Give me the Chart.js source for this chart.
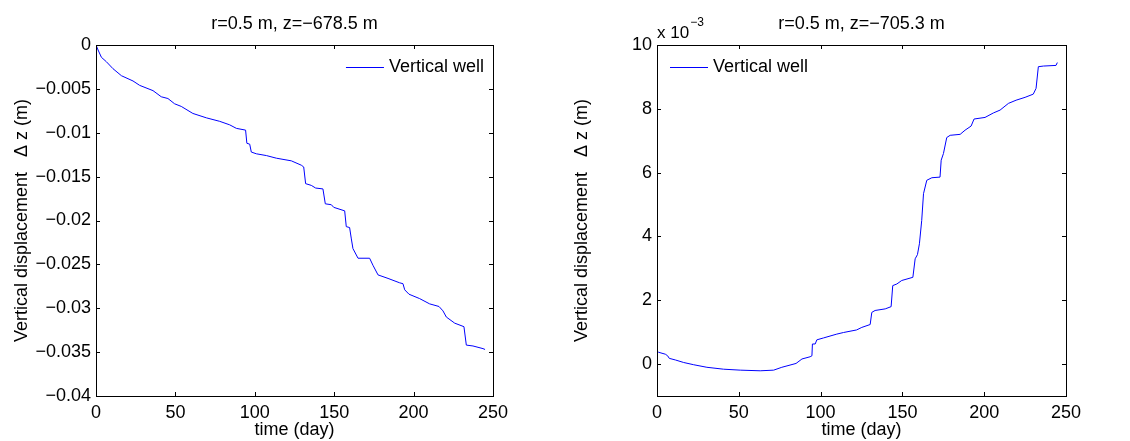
<!DOCTYPE html>
<html>
<head>
<meta charset="utf-8">
<script src="https://cdn.jsdelivr.net/npm/chart.js@4.4.0/dist/chart.umd.min.js"></script>
<style>
    html, body { margin: 0; padding: 0; background: #fff; }
    #wrap { position: relative; width: 1130px; height: 441px; }
    canvas { position: absolute; top: 0; }
</style>
</head>
<body>
<div id="wrap">
    <canvas id="leftChart" width="560" height="441" style="left:0"></canvas>
    <canvas id="rightChart" width="570" height="441" style="left:560px"></canvas>
</div>
<script>
// Left panel: r=0.5 m, z=-678.5 m  (dz in m)
const leftDays = [0, 1.3, 3.4, 6.5, 10.7, 16, 23.3, 27.5, 35.9, 41.1, 45.3, 49.5, 53.7, 61, 69.5, 77.9, 84.2, 88.4, 94.2,
    95, 96.8, 97.8, 101, 107.3, 113.6, 123, 129.3, 130.8, 132, 135.6, 138.3, 142.9, 144.4, 148.2, 149.7, 156.6,
    157.6, 159.7, 160.8, 161.8, 165, 172.3, 174.4, 177.6, 183.9, 191.2, 193.3, 194.4, 197.1, 203.8, 210.1, 216,
    218.5, 220.6, 225.9, 231.7, 233.2, 237.4, 243.7, 245];
const leftDz = [0, -0.00057, -0.0014, -0.0019, -0.0027, -0.0035, -0.0041, -0.0046, -0.0052, -0.0059, -0.0061, -0.0067,
    -0.0070, -0.0078, -0.0083, -0.0087, -0.0091, -0.0095, -0.0097, -0.0112, -0.0113, -0.0122, -0.0124, -0.0126,
    -0.0129, -0.0132, -0.0137, -0.0139, -0.0158, -0.0160, -0.0163, -0.0164, -0.0181, -0.0182, -0.0185, -0.0189,
    -0.0207, -0.0208, -0.0221, -0.0232, -0.0243, -0.0243, -0.0251, -0.0262, -0.0266, -0.0271, -0.0272, -0.0279,
    -0.0284, -0.0289, -0.0295, -0.0298, -0.0303, -0.0310, -0.0317, -0.0321, -0.0342, -0.0343, -0.0346, -0.0347];

// Right panel: r=0.5 m, z=-705.3 m  (dz in 1e-3 m)
const rightDays = [0, 0, 1, 5.1, 6.5, 7.5, 11.2, 16.3, 22.4, 30.5, 40.7, 50.9, 63.1, 71.3, 76.3, 85, 88.6, 93.6, 94.7, 95,
    96.7, 97.7, 101.8, 109.9, 114, 122, 125.2, 130.3, 131.3, 133.3, 139.5, 143.1, 144.1, 146.6, 149.6, 156.4,
    157.8, 159.2, 160.4, 161.8, 162.9, 164.9, 168, 173, 173.7, 175.1, 177.1, 179.2, 185.3, 188.3, 192, 193.8,
    200.5, 205.6, 209.7, 214.8, 219.5, 225, 230, 231.7, 233.1, 236.2, 243.9, 244.7];
const rightDz = [0, 0.42, 0.37, 0.31, 0.26, 0.18, 0.13, 0.05, -0.02, -0.10, -0.16, -0.19, -0.21, -0.19, -0.10, 0.02, 0.16,
    0.23, 0.26, 0.63, 0.63, 0.76, 0.82, 0.94, 0.99, 1.07, 1.15, 1.24, 1.62, 1.68, 1.73, 1.80, 2.46, 2.51, 2.62,
    2.72, 3.30, 3.43, 3.77, 4.50, 5.34, 5.76, 5.84, 5.86, 6.39, 6.60, 7.10, 7.17, 7.20, 7.33, 7.46, 7.68, 7.73,
    7.87, 7.96, 8.17, 8.27, 8.36, 8.46, 8.64, 9.32, 9.34, 9.36, 9.45];

// 刻度
const dayTicks = [0, 50, 100, 150, 200, 250];
const dayTickLabels = ['0', '50', '100', '150', '200', '250'];
const leftYTicks = [-0.04, -0.035, -0.03, -0.025, -0.02, -0.015, -0.01, -0.005, 0];
const leftYTickLabels = ['\u22120.04', '\u22120.035', '\u22120.03', '\u22120.025', '\u22120.02', '\u22120.015', '\u22120.01', '\u22120.005', '0'];
const rightYTicks = [0, 2, 4, 6, 8, 10];
const rightYTickLabels = ['0', '2', '4', '6', '8', '10'];

const FONT_FAMILY = '"Liberation Sans", Arial, Helvetica, sans-serif';
const TICK_LEN = 4;

// MATLAB-like box, inward ticks, title, legend
const matlabFrame = {
    id: 'matlabFrame',
    afterDraw(chart, args, opts) {
        const ctx = chart.ctx;
        const a = chart.chartArea;
        const xs = chart.scales.x;
        const ys = chart.scales.y;

        ctx.save();
        ctx.strokeStyle = '#000';
        ctx.lineWidth = 1;
        ctx.strokeRect(Math.round(a.left) + 0.5, Math.round(a.top) + 0.5,
            Math.round(a.right - a.left), Math.round(a.bottom - a.top));

        ctx.beginPath();
        xs.ticks.forEach(t => {
            const px = Math.round(xs.getPixelForValue(t.value)) + 0.5;
            ctx.moveTo(px, a.bottom);
            ctx.lineTo(px, a.bottom - TICK_LEN);
            ctx.moveTo(px, a.top);
            ctx.lineTo(px, a.top + TICK_LEN);
        });
        ys.ticks.forEach(t => {
            const py = Math.round(ys.getPixelForValue(t.value)) + 0.5;
            ctx.moveTo(a.left, py);
            ctx.lineTo(a.left + TICK_LEN, py);
            ctx.moveTo(a.right, py);
            ctx.lineTo(a.right - TICK_LEN, py);
        });
        ctx.stroke();

        // title
        ctx.fillStyle = '#000';
        ctx.font = `18px ${FONT_FAMILY}`;
        ctx.textAlign = 'center';
        ctx.textBaseline = 'middle';
        ctx.fillText(opts.title, (a.left + a.right) / 2, 24);

        // exponent label
        if (opts.exponent) {
            ctx.textAlign = 'left';
            ctx.font = `17px ${FONT_FAMILY}`;
            ctx.fillText('x 10', a.left, 33);
            const w = ctx.measureText('x 10').width;
            ctx.font = `12px ${FONT_FAMILY}`;
            ctx.fillText(opts.exponent, a.left + w + 1, 23);
        }

        // legend
        const ds = chart.data.datasets[0];
        ctx.font = `18px ${FONT_FAMILY}`;
        ctx.textAlign = 'left';
        const tw = ctx.measureText(ds.label).width;
        let textX;
        if (opts.legendSide === 'right') {
            textX = a.right - 9 - tw;
        } else {
            textX = a.left + 56;
        }
        const ly = a.top + 22;
        ctx.fillText(ds.label, textX, ly);
        ctx.strokeStyle = ds.borderColor;
        ctx.beginPath();
        ctx.moveTo(textX - 43, Math.round(ly) + 0.5);
        ctx.lineTo(textX - 5, Math.round(ly) + 0.5);
        ctx.stroke();
        ctx.restore();
    }
};

// 生成点数据
function toPoints(xs, ys) {
    return xs.map((x, i) => ({ x: x, y: ys[i] }));
}

// 创建单个图表
function makeChart(canvasId, cfg) {
    const ctx = document.getElementById(canvasId).getContext('2d');

    return new Chart(ctx, {
        type: 'line',
        data: {
            datasets: [{
                label: 'Vertical well',
                data: toPoints(cfg.days, cfg.values),
                borderColor: '#0000ff',
                borderWidth: 1,
                pointRadius: 0,
                tension: 0,
                fill: false
            }]
        },
        options: {
            responsive: false,
            animation: false,
            devicePixelRatio: 1,
            layout: {
                padding: { left: 0, right: cfg.padRight, top: 45, bottom: 0 }
            },
            plugins: {
                legend: { display: false },
                title: { display: false },
                tooltip: { enabled: false },
                matlabFrame: {
                    title: cfg.title,
                    exponent: cfg.exponent,
                    legendSide: cfg.legendSide
                }
            },
            scales: {
                x: {
                    type: 'linear',
                    min: 0,
                    max: 250,
                    afterBuildTicks: scale => {
                        scale.ticks = dayTicks.map(v => ({ value: v }));
                    },
                    afterFit: scale => { scale.height = 45; },
                    grid: { display: false, drawTicks: false },
                    border: { display: false },
                    ticks: {
                        color: '#000',
                        padding: 6,
                        maxRotation: 0,
                        font: { family: FONT_FAMILY, size: 18 },
                        callback: (v, i) => dayTickLabels[i]
                    },
                    title: {
                        display: true,
                        text: 'time (day)',
                        color: '#000',
                        padding: { top: -3, bottom: 0 },
                        font: { family: FONT_FAMILY, size: 18 }
                    }
                },
                y: {
                    type: 'linear',
                    min: cfg.yMin,
                    max: cfg.yMax,
                    afterBuildTicks: scale => {
                        scale.ticks = cfg.yTicks.map(v => ({ value: v }));
                    },
                    afterFit: scale => { scale.width = cfg.yWidth; },
                    grid: { display: false, drawTicks: false },
                    border: { display: false },
                    ticks: {
                        color: '#000',
                        padding: 5,
                        font: { family: FONT_FAMILY, size: 18 },
                        callback: (v, i) => cfg.yTickLabels[i]
                    },
                    title: {
                        display: true,
                        text: 'Vertical displacement   \u0394 z (m)',
                        color: '#000',
                        padding: { top: 11, bottom: 0 },
                        font: { family: FONT_FAMILY, size: 18 }
                    }
                }
            }
        },
        plugins: [matlabFrame]
    });
}

makeChart('leftChart', {
    days: leftDays,
    values: leftDz,
    title: 'r=0.5 m, z=\u2212678.5 m',
    yMin: -0.04,
    yMax: 0,
    yTicks: leftYTicks,
    yTickLabels: leftYTickLabels,
    yWidth: 96,
    padRight: 67,
    legendSide: 'right'
});

makeChart('rightChart', {
    days: rightDays,
    values: rightDz,
    title: 'r=0.5 m, z=\u2212705.3 m',
    exponent: '\u22123',
    yMin: -1,
    yMax: 10,
    yTicks: rightYTicks,
    yTickLabels: rightYTickLabels,
    yWidth: 97,
    padRight: 64,
    legendSide: 'left'
});
</script>
</body>
</html>
